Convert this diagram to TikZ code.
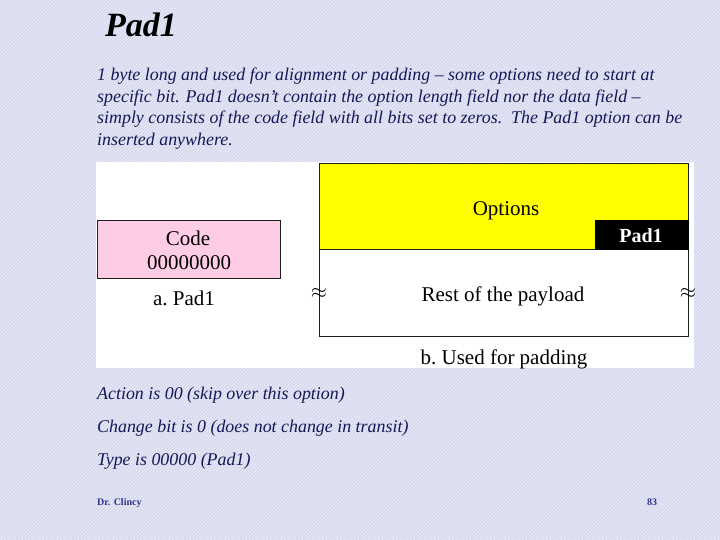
\documentclass[tikz,border=0pt]{standalone}
\usepackage{fontspec}
\setmainfont{Liberation Serif}
\definecolor{bgbase}{RGB}{230,232,246}
\definecolor{bghatch}{RGB}{210,214,236}
\definecolor{navy}{RGB}{22,22,88}
\definecolor{footnavy}{RGB}{50,50,140}
\definecolor{pinkfill}{RGB}{255,204,230}
\definecolor{boxline}{RGB}{30,30,30}
\definecolor{optyellow}{RGB}{255,255,0}
\tikzset{
  para/.style={anchor=base west,inner sep=0pt,text=navy,font=\fontsize{17.9}{20}\selectfont\itshape},
  diag/.style={anchor=base,inner sep=0pt,text=black,font=\fontsize{21}{24}\selectfont},
  field/.style={draw=boxline,line width=1.3pt},
  foot/.style={anchor=base,inner sep=0pt,text=footnavy,font=\fontsize{10}{11}\selectfont\bfseries},
  brk/.style={inner sep=0pt,font=\fontsize{22}{22}\selectfont,text=black}
}
\begin{document}
\begin{tikzpicture}[x=1pt,y=-1pt]
\useasboundingbox (0,0) rectangle (720,540);
\begin{scope}
\clip (0,0) rectangle (720,540);
\fill[bgbase] (0,0) rectangle (720,540);
\foreach \i in {-540,-536.5,...,724} \draw[bghatch,line width=1pt] (\i,540) -- (\i+540,0);
\end{scope}
% title
\node[anchor=base,inner sep=0pt,font=\fontsize{34}{36}\selectfont\bfseries\itshape] (title) at (141,37) {Pad1};
% paragraph
\node[para] (p1) at (97,81) {1 byte long and used for alignment or padding -- some options need to start at};
\node[para] (p2) at (97,102.5) {specific bit. Pad1 doesn’t contain the option length field nor the data field --};
\node[para] (p3) at (97,124) {simply consists of the code field with all bits set to zeros.\ \ The Pad1 option can be};
\node[para] (p4) at (97,145.5) {inserted anywhere.};
% white panel
\fill[white] (96,162) rectangle (694,368);
% a. Pad1
\node[field,fill=pinkfill,minimum width=183pt,minimum height=58pt,inner sep=0pt,anchor=north west] (code) at (97,220) {};
\node[diag] (codet) at (188,245) {Code};
\node[diag] (codez) at (189,269) {00000000};
\node[diag] (capa) at (184,305) {a.\ Pad1};
% b. Used for padding
\node[field,fill=optyellow,minimum width=369pt,minimum height=86pt,inner sep=0pt,anchor=north west] (opts) at (319,163) {};
\node[field,fill=white,minimum width=369pt,minimum height=87pt,inner sep=0pt,anchor=north west] (rest) at (319,249) {};
\node[draw=black,fill=black,line width=1pt,minimum width=93pt,minimum height=29pt,inner sep=0pt,anchor=south east] (pad) at (opts.south east) {};
\node[diag] (optst) at (506,215) {Options};
\node[diag,text=white,font=\fontsize{20}{24}\selectfont\bfseries] (padt) at (641,243) {Pad1};
\node[diag] (restt) at (503,301) {Rest of the payload};
\node[brk] (brkl) at (319,293) {$\approx$};
\node[brk] (brkr) at (688,293) {$\approx$};
\node[diag] (capb) at (504,364) {b.\ Used for padding};
% lower lines
\node[para] (l1) at (97,399) {Action is 00 (skip over this option)};
\node[para] (l2) at (97,432) {Change bit is 0 (does not change in transit)};
\node[para] (l3) at (97,465) {Type is 00000 (Pad1)};
% footer
\node[foot,anchor=base west] (author) at (97,505) {Dr. Clincy};
\node[foot] (page) at (652,505) {83};
\end{tikzpicture}
\end{document}
